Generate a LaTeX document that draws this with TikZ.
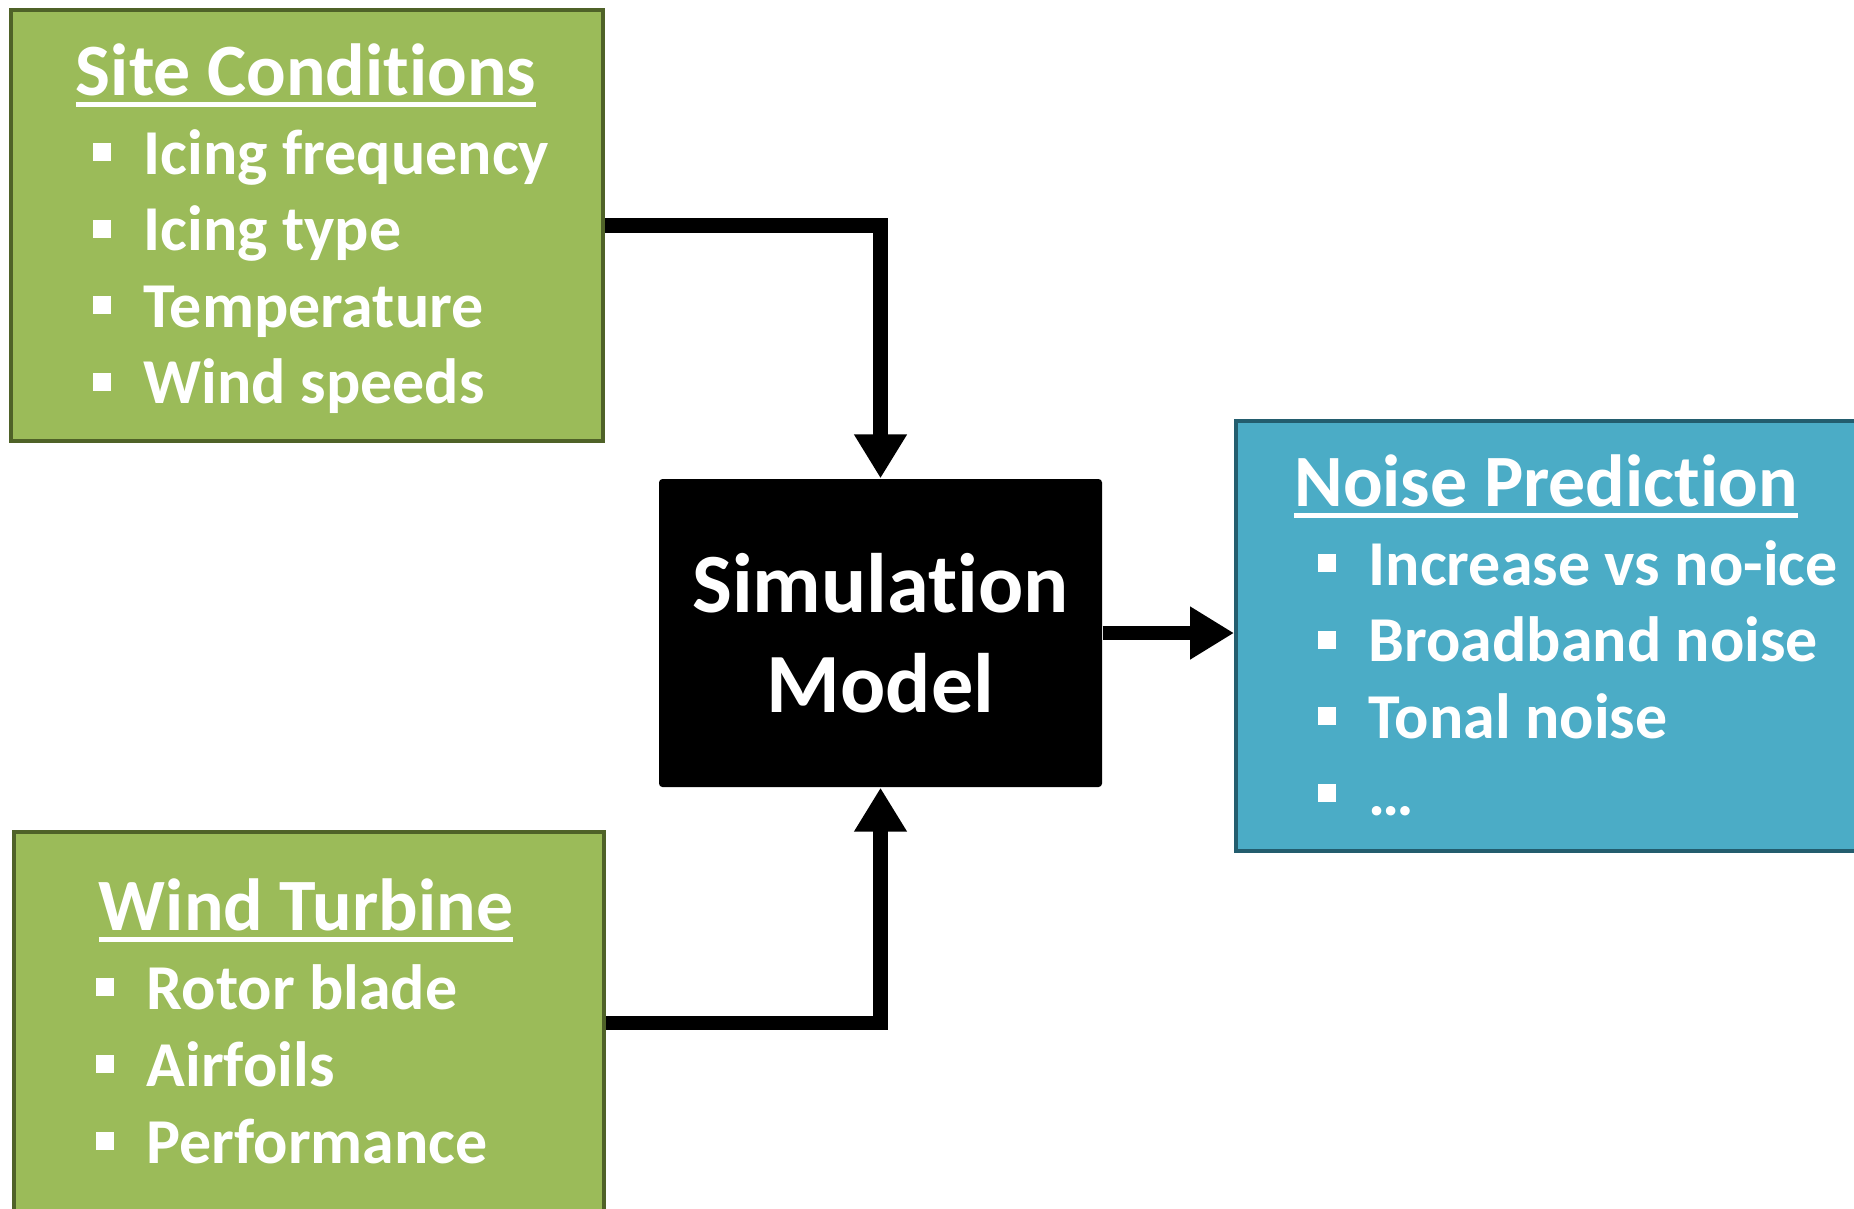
\documentclass[tikz,border=0pt]{standalone}
\usepackage{fontspec}
\setmainfont{Carlito}[Ligatures=NoCommon]
\usetikzlibrary{arrows.meta,positioning}

\definecolor{boxgreen}{HTML}{9BBB59}
\definecolor{greenline}{HTML}{4F6228}
\definecolor{boxaqua}{HTML}{4BACC6}
\definecolor{aqualine}{HTML}{235D6E}

\newcommand{\bul}{\makebox[0.51cm][l]{\rule[0.13cm]{0.18cm}{0.18cm}}}
\newcommand{\headline}[1]{\setbox0\hbox{#1}\rlap{\rule[-3.3pt]{\wd0}{1.2pt}}\box0}

\begin{document}
\begin{tikzpicture}
[
	inbox/.style = {rectangle, draw=greenline, fill=boxgreen, line width=1.2pt, anchor=north west, inner sep=0pt},
	outbox/.style = {rectangle, draw=aqualine, fill=boxaqua, line width=1.2pt, anchor=north west, inner sep=0pt},
	model/.style = {rectangle, fill=black, rounded corners=1pt, text=white, align=center, inner sep=0pt,
		minimum width=4.43cm, minimum height=3.08cm, font=\bfseries\fontsize{24}{28.4}\selectfont},
	headtext/.style = {anchor=base, inner sep=0pt, text=white, font=\bfseries\fontsize{21}{25}\selectfont},
	listitem/.style = {anchor=base west, inner sep=0pt, text=white, font=\bfseries\fontsize{18.2}{21}\selectfont},
	arrow/.style = {-{Triangle[length=0.44cm,width=0.5cm]}, line width=4.1pt}
]
\useasboundingbox (0,0) rectangle (18.54,-12.08);

\node[inbox, minimum width=5.92cm, minimum height=4.31cm] (site) at (0.09,-0.08) {};
\node[inbox, minimum width=5.90cm, minimum height=3.82cm] (turbine) at (0.12,-8.30) {};
\node[outbox, minimum width=6.30cm, minimum height=4.30cm] (noise) at (12.34,-4.19) {};
\node[model] (simmodel) at (8.805,-6.33) {Simulation\\Model};

\node[headtext] (sitetitle) at (3.06,-0.95) {\headline{Site Conditions}};
\node[headtext] (turbinetitle) at (3.06,-9.30) {\headline{Wind Turbine}};
\node[headtext] (noisetitle) at (15.46,-5.06) {\headline{Noise Prediction}};

\foreach \txt [count=\i] in {Icing frequency, Icing type, Temperature, Wind speeds}
	\node[listitem] (site\i) at (0.92,{-1.74-0.765*(\i-1)}) {\bul\txt};
\foreach \txt [count=\i] in {Rotor blade, Airfoils, Performance}
	\node[listitem] (turbine\i) at (0.95,{-10.09-0.77*(\i-1)}) {\bul\txt};
\foreach \txt [count=\i] in {Increase vs no-ice, Broadband noise, Tonal noise, …}
	\node[listitem] (noise\i) at (13.17,{-5.85-0.767*(\i-1)}) {\bul\txt};

\draw[arrow] (site.east) -| (simmodel.north);
\draw[arrow] (turbine.east) -| (simmodel.south);
\draw[arrow] (simmodel.east) -- (simmodel.east -| noise.west);

\end{tikzpicture}
\end{document}
